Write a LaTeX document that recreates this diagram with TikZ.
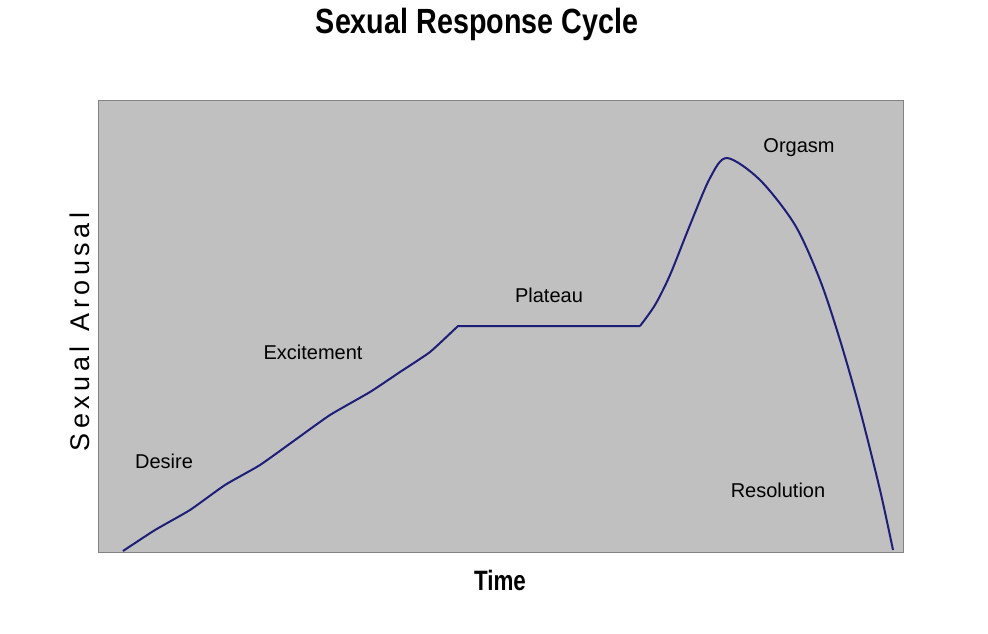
\documentclass[tikz,border=0pt]{standalone}
\usepackage{fontspec}
\setmainfont{Liberation Sans}
\begin{document}
\begin{tikzpicture}[x=1pt,y=-1pt,
  lab/.style={font=\fontsize{20}{22}\selectfont},
  curve/.style={draw={rgb,255:red,30;green,30;blue,120},line width=2pt,line join=round}]
\useasboundingbox (0,0) rectangle (988,633);
\fill[white] (0,0) rectangle (988,633);
\node[font=\bfseries\fontsize{35}{40}\selectfont,xscale=0.82] (title) at (477,24) {Sexual Response Cycle};
\filldraw[fill={rgb,255:red,192;green,192;blue,192},draw={rgb,255:red,130;green,130;blue,130},line width=1pt] (98,100) rectangle (903,552);
\node[rotate=90,font=\fontsize{27}{30}\selectfont] (ylab) at (80,332) {S\,e\,x\,u\,a\,l\ \ A\,r\,o\,u\,s\,a\,l};
\node[font=\bfseries\fontsize{28}{30}\selectfont,xscale=0.8] (xlab) at (500,580) {Time};
\draw[curve] plot[smooth,tension=0.3] coordinates {(123,551)(155,530)(190,510)(225,485)(260,465)(295,440)(330,415)(370,392)(400,372)(430,352)(458,326)}
 -- (640,326) plot[smooth,tension=0.5] coordinates {(640,326)(655,305)(670,275)(690,225)(710,178)(727,158)(760,180)(795,225)(820,280)(840,340)(860,410)(880,490)(893,550)};
\node[lab] (desire) at (164,461) {Desire};
\node[lab] (exc) at (313,352) {Excitement};
\node[lab] (plat) at (549,295) {Plateau};
\node[lab] (org) at (799,148) {Orgasm};
\node[lab] (res) at (778,490) {Resolution};
\end{tikzpicture}
\end{document}
